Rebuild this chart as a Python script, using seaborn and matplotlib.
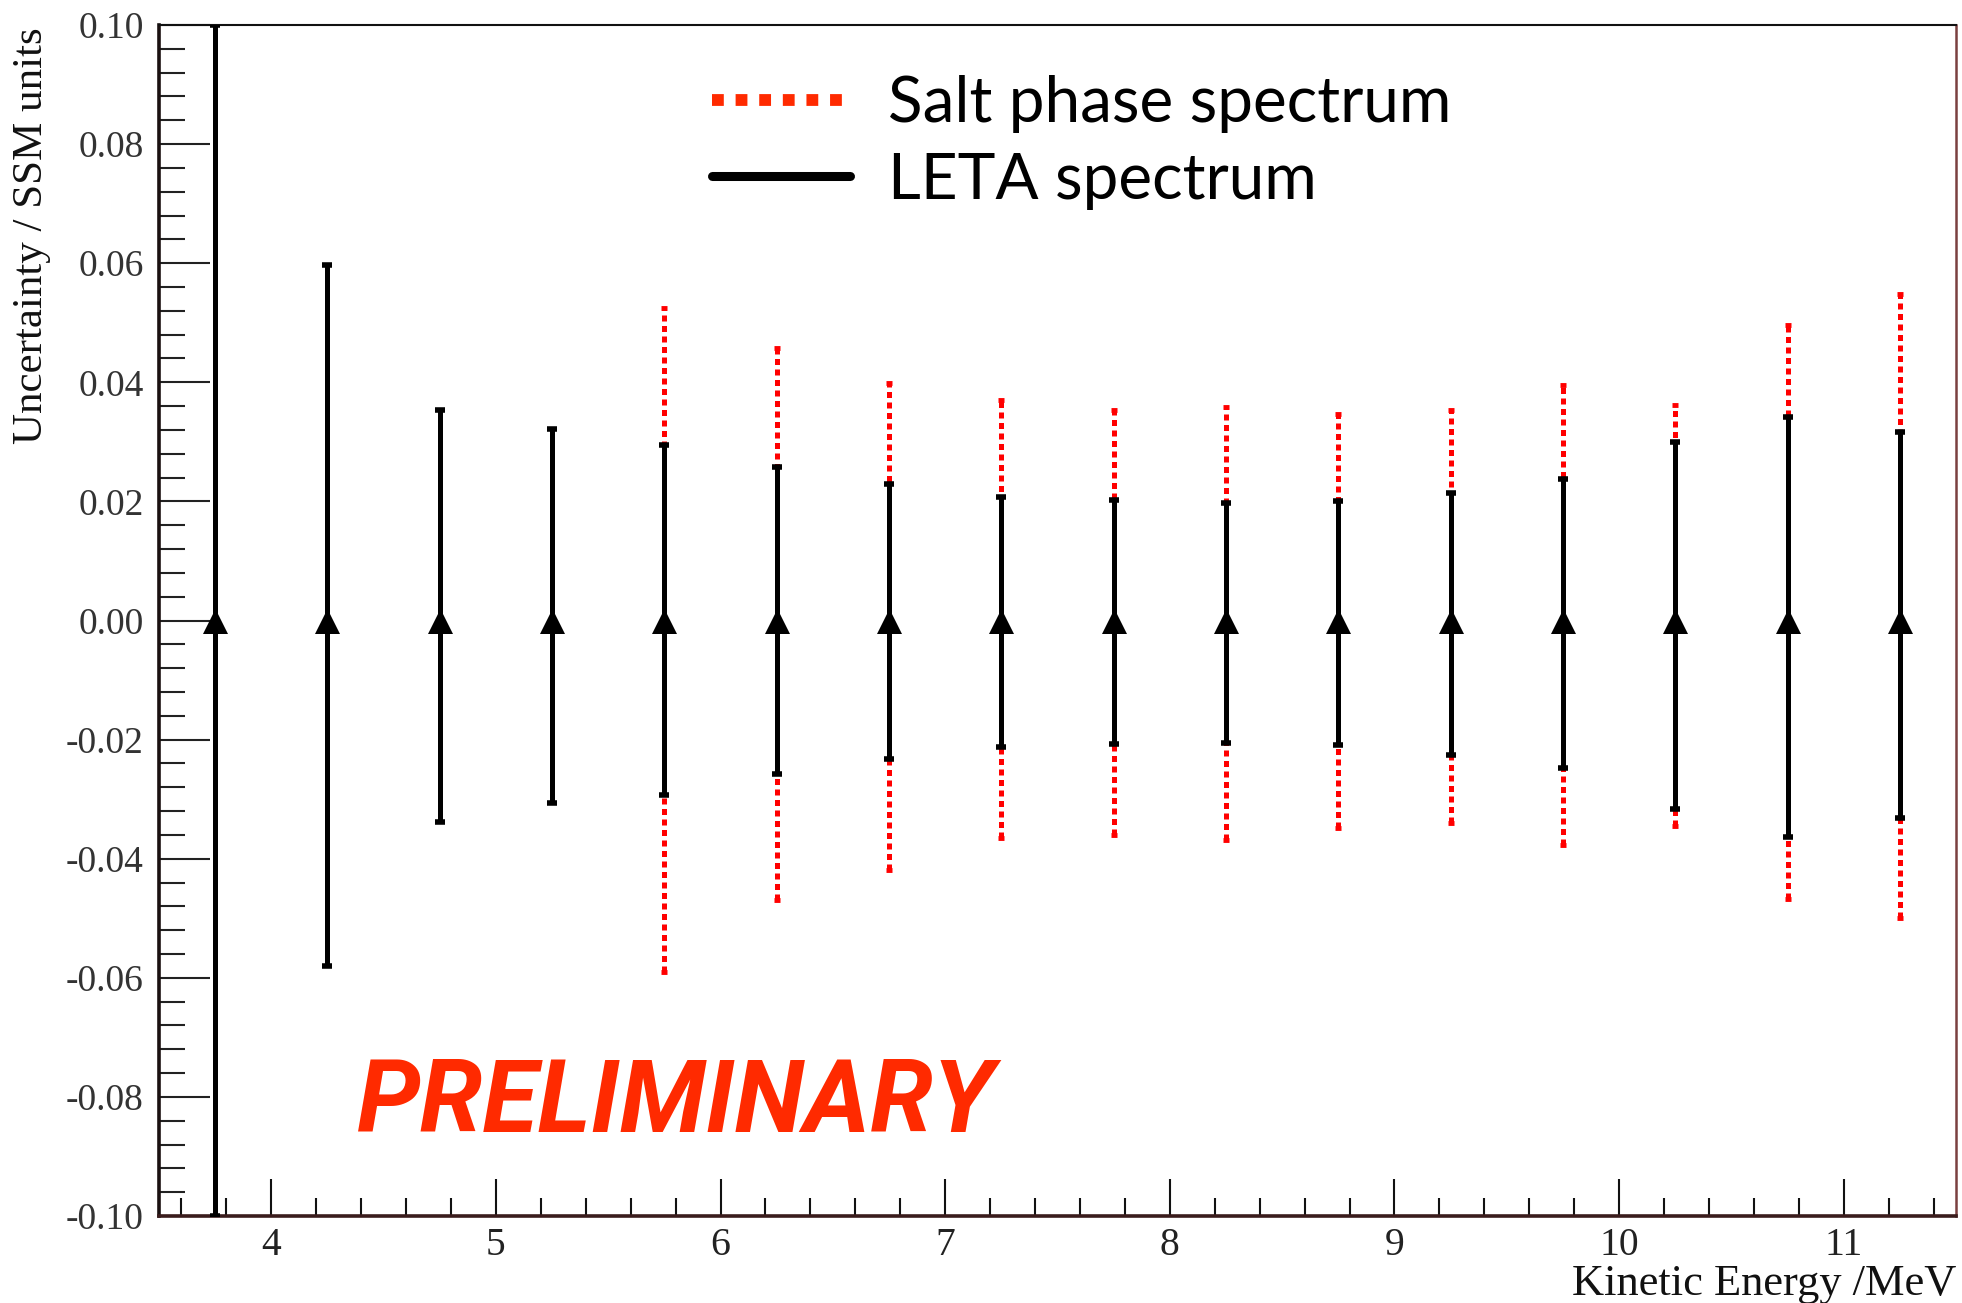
import matplotlib
matplotlib.use("Agg")
import matplotlib.pyplot as plt
from matplotlib.lines import Line2D
from matplotlib.ticker import MultipleLocator, FuncFormatter
import seaborn as sns
import pandas as pd

# Bin centres (kinetic energy, MeV) and asymmetric uncertainties in SSM units
leta_energy = [3.75, 4.25, 4.75, 5.25, 5.75, 6.25, 6.75, 7.25,
               7.75, 8.25, 8.75, 9.25, 9.75, 10.25, 10.75, 11.25]
leta_up = [0.100, 0.0597, 0.0353, 0.0321, 0.0295, 0.0257, 0.0230, 0.0208,
           0.0203, 0.0198, 0.0200, 0.0214, 0.0237, 0.0299, 0.0341, 0.0317]
leta_down = [0.100, 0.0580, 0.0338, 0.0307, 0.0293, 0.0258, 0.0233, 0.0213,
             0.0207, 0.0206, 0.0209, 0.0226, 0.0248, 0.0317, 0.0363, 0.0332]

salt_energy = [5.75, 6.25, 6.75, 7.25, 7.75, 8.25,
               8.75, 9.25, 9.75, 10.25, 10.75, 11.25]
salt_up = [0.0524, 0.0457, 0.0399, 0.0370, 0.0353, 0.0359,
           0.0346, 0.0353, 0.0395, 0.0362, 0.0496, 0.0549]
salt_down = [0.0590, 0.0469, 0.0419, 0.0366, 0.0360, 0.0369,
             0.0349, 0.0340, 0.0377, 0.0345, 0.0468, 0.0500]

central = [0.0] * len(leta_energy)

legend_labels = ["Salt phase spectrum", "LETA spectrum"]
x_label = "Kinetic Energy /MeV"
y_label = "Uncertainty / SSM units"
stamp = "PRELIMINARY"

sns.set_theme(style="white")
plt.rcParams["font.family"] = ["Liberation Serif", "DejaVu Serif"]

W, H = 1962, 1303
fig = plt.figure(figsize=(W / 100, H / 100), dpi=100)
ax = fig.add_axes([159 / W, 1 - 1216 / H, (1956 - 159) / W, (1216 - 25) / H])

red = "#ff0000"
orange_red = "#ff2a00"

# Salt phase bands (red dotted), drawn underneath
salt_eb = ax.errorbar(salt_energy, [0.0] * len(salt_energy),
                      yerr=[salt_down, salt_up], fmt="none", ecolor=red,
                      elinewidth=3.6, capsize=2.5, capthick=3.5, zorder=2)
for lc in salt_eb[2]:
    lc.set_linestyle((0, (1.2, 0.9)))

# LETA bands (black solid)
ax.errorbar(leta_energy, central, yerr=[leta_down, leta_up], fmt="none",
            ecolor="black", elinewidth=3.6, capsize=3.8, capthick=4,
            zorder=3)

df = pd.DataFrame({"energy": leta_energy, "value": central})
sns.scatterplot(data=df, x="energy", y="value", marker="^", s=324,
                color="black", linewidth=0, ax=ax, zorder=5, legend=False)

ax.set_xlim(3.5, 11.5)
ax.set_ylim(-0.10, 0.10)


def two_decimals(v, _pos):
    v = round(v, 6)
    if v == 0:
        v = 0.0
    return f"{v:.2f}"


ax.yaxis.set_major_locator(MultipleLocator(0.02))
ax.yaxis.set_minor_locator(MultipleLocator(0.004))
ax.yaxis.set_major_formatter(FuncFormatter(two_decimals))
ax.xaxis.set_major_locator(MultipleLocator(1))
ax.xaxis.set_minor_locator(MultipleLocator(0.2))

ax.tick_params(axis="y", which="major", direction="in", length=37, width=1.5,
               color="#222222", labelsize=27, labelcolor="#333333", pad=11,
               left=True, right=False)
ax.tick_params(axis="y", which="minor", direction="in", length=19, width=1.5,
               color="#222222", left=True, right=False)
ax.tick_params(axis="x", which="major", direction="in", length=27, width=1.5,
               color="#111111", labelsize=28.5, labelcolor="#222222", pad=8,
               bottom=True, top=False)
ax.tick_params(axis="x", which="minor", direction="in", length=13, width=1.5,
               color="#111111", bottom=True, top=False)

for side, lw, col in [("left", 2.6, "#1a1010"), ("bottom", 2.6, "#3a1c1c"),
                      ("top", 1.5, "#111111"), ("right", 1.8, "#7a4040")]:
    ax.spines[side].set_visible(True)
    ax.spines[side].set_linewidth(lw)
    ax.spines[side].set_color(col)

ax.set_xlabel(x_label, fontsize=32, color="#111111")
ax.xaxis.set_label_coords(1.0, -0.0575)
ax.xaxis.label.set_ha("right")
ax.xaxis.label.set_va("center")

ax.set_ylabel(y_label, fontsize=31, color="#111111")
ax.yaxis.set_label_coords(-0.071, 0.998)
ax.yaxis.label.set_ha("right")
ax.yaxis.label.set_va("center")

handles = [
    Line2D([], [], color=orange_red, lw=8.5, linestyle=(0, (1, 1))),
    Line2D([], [], color="black", lw=6.5, linestyle="-"),
]
leg = ax.legend(handles, legend_labels, loc="upper left",
                bbox_to_anchor=(0.308, 0.958), frameon=False,
                prop={"family": "Lato", "size": 46},
                handlelength=2.15, handletextpad=0.6, labelspacing=0.29,
                borderpad=0, borderaxespad=0, labelcolor="black")

ax.text(0.110, 0.0705, stamp, transform=ax.transAxes, color=orange_red,
        fontsize=73, fontweight="bold", fontstyle="italic",
        family=["Roboto", "DejaVu Sans"], ha="left", va="baseline")

fig.savefig("out.png", dpi=100, facecolor="white")
